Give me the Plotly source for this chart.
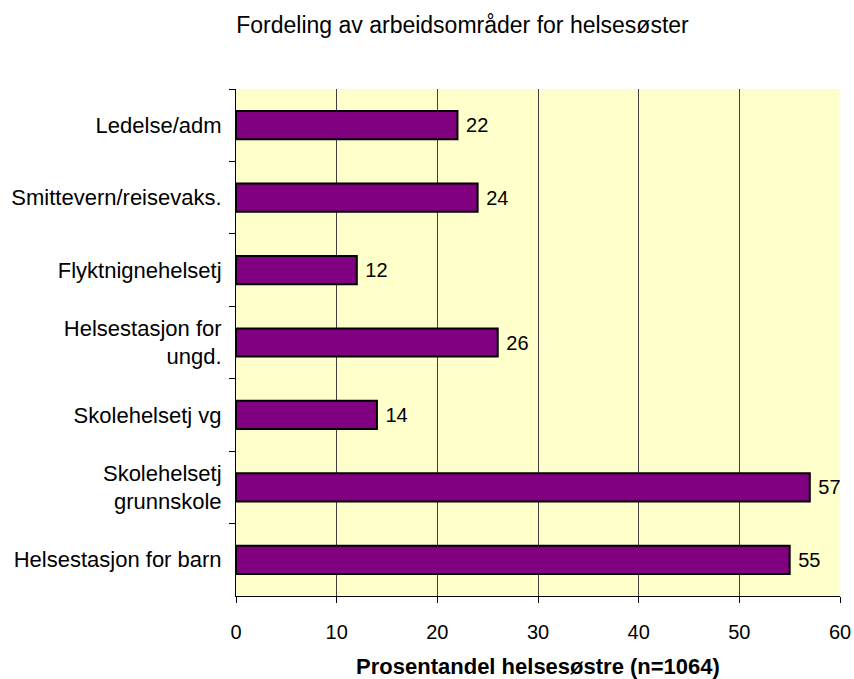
import plotly.graph_objects as go

categories = [
    "Ledelse/adm",
    "Smittevern/reisevaks.",
    "Flyktnignehelsetj",
    "Helsestasjon for<br>ungd.",
    "Skolehelsetj vg",
    "Skolehelsetj<br>grunnskole",
    "Helsestasjon for barn",
]
values = [22, 24, 12, 26, 14, 57, 55]
x_ticks = [0, 10, 20, 30, 40, 50, 60]

title_text = "Fordeling av arbeidsområder for helsesøster"
x_title = "Prosentandel helsesøstre (n=1064)"

FONT = "Liberation Sans, Arial, sans-serif"

W, H = 854, 679

fig = go.Figure(
    go.Bar(
        x=values,
        y=categories,
        orientation="h",
        marker=dict(color="#800080", line=dict(color="black", width=2)),
        text=values,
        texttemplate=" %{x}",
        textposition="outside",
        textfont=dict(family=FONT, size=20, color="black"),
        cliponaxis=False,
        hoverinfo="skip",
    )
)

fig.update_layout(
    width=W,
    height=H,
    margin=dict(l=236, r=14, t=89, b=83),
    paper_bgcolor="white",
    plot_bgcolor="#FFFFCC",
    showlegend=False,
    bargap=0.61,
    font=dict(family=FONT, size=20, color="black"),
    title=dict(
        text=title_text,
        x=462.5 / W,
        xanchor="center",
        y=1 - 25 / H,
        yanchor="middle",
        font=dict(family=FONT, size=23, color="black"),
    ),
)

fig.update_xaxes(
    range=[0, 60],
    tickvals=x_ticks,
    ticks="outside",
    ticklen=6,
    tickcolor="black",
    showline=True,
    linecolor="black",
    linewidth=1,
    showgrid=True,
    gridcolor="#404040",
    gridwidth=1,
    zeroline=False,
    automargin=False,
    tickfont=dict(family=FONT, size=20, color="black"),
    ticklabelstandoff=12,
    title=dict(
        text="<b>" + x_title + "</b>",
        font=dict(family=FONT, size=22, color="black"),
        standoff=19,
    ),
)

fig.update_yaxes(
    autorange="reversed",
    ticks="outside",
    tickson="boundaries",
    ticklen=6,
    tickcolor="black",
    showline=True,
    linecolor="black",
    linewidth=1,
    showgrid=False,
    automargin=False,
    tickfont=dict(family=FONT, size=22, color="black"),
    ticklabelstandoff=9,
)

fig.write_html(
    "out.html",
    config={"displayModeBar": False},
    post_script="document.body.style.margin='0';document.body.style.overflow='hidden';",
)
